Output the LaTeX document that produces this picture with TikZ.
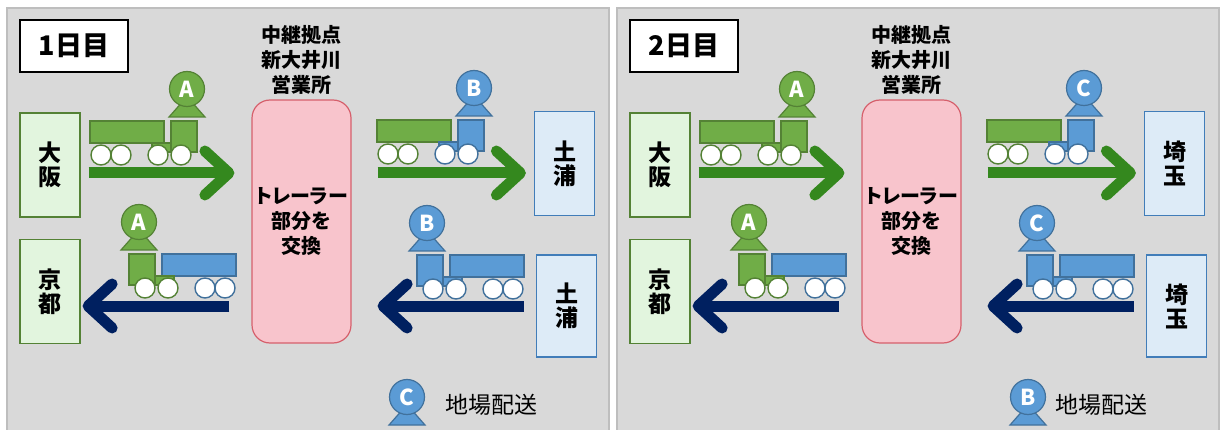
\documentclass[tikz,border=0pt]{standalone}
\usepackage{fontspec}
\setmainfont{Noto Sans CJK JP}
\usetikzlibrary{positioning,arrows.meta}
\definecolor{panelfill}{RGB}{217,217,217}
\definecolor{panelline}{RGB}{190,190,190}
\definecolor{hubfill}{RGB}{248,196,204}
\definecolor{hubline}{RGB}{214,96,108}
\definecolor{westfill}{RGB}{226,245,222}
\definecolor{westline}{RGB}{84,130,53}
\definecolor{eastfill}{RGB}{221,235,247}
\definecolor{eastline}{RGB}{65,125,185}
\definecolor{grnfill}{RGB}{112,173,71}
\definecolor{grnline}{RGB}{84,130,53}
\definecolor{blufill}{RGB}{91,155,213}
\definecolor{bluline}{RGB}{65,113,156}
\definecolor{goarrow}{RGB}{52,136,30}
\definecolor{backarrow}{RGB}{0,32,96}

\tikzset{
  % driver: head with letter, shoulders below
  pics/driver/.style 2 args={code={
    \draw[fill=#1fill,draw=#1line,line width=1.2pt] (-3,-11) -- (3,-11) -- (18,-28) -- (-18,-28) -- cycle;
    \node[circle,fill=#1fill,draw=#1line,line width=1.2pt,minimum size=35pt,inner sep=0pt,
      text=white,font=\bfseries\fontsize{22}{22}\selectfont] (-badge) at (0,0) {#2};
  }},
  % truck facing right, origin = top left of the trailer
  pics/truck/.style n args={3}{code={
    \draw[fill=#1fill,draw=#1line,line width=1.2pt] (0,0) rectangle (74,-22);
    \draw[fill=#2fill,draw=#2line,line width=1.2pt] (62,-22) rectangle (81,-31);
    \draw[fill=#2fill,draw=#2line,line width=1.2pt] (81,0) rectangle (107,-31);
    \foreach \wx in {11,31} \draw[fill=white,draw=#1line,line width=1.4pt] (\wx,-34) circle (10);
    \foreach \wx in {68,91} \draw[fill=white,draw=#2line,line width=1.4pt] (\wx,-34) circle (10);
    \pic (-drv) at (97,32) {driver={#2}{#3}};
  }}
}

\begin{document}
\begin{tikzpicture}[x=1pt,y=1pt]
  \tikzstyle{daybox}=[rectangle,draw=black,line width=1.6pt,fill=white,minimum width=108pt,minimum height=52pt,font=\bfseries\fontsize{27}{27}\selectfont]
  \tikzstyle{hubbox}=[rectangle,rounded corners=18pt,draw=hubline,line width=1.2pt,fill=hubfill,minimum width=95pt,minimum height=243pt,align=center,font=\bfseries\fontsize{20}{25}\selectfont]
  \tikzstyle{relay}=[inner sep=0pt,align=center,font=\bfseries\fontsize{20}{25}\selectfont]
  \tikzstyle{westbox}=[rectangle,draw=westline,line width=1.2pt,fill=westfill,minimum width=60pt,minimum height=104pt,align=center,font=\bfseries\fontsize{23}{24}\selectfont]
  \tikzstyle{eastbox}=[westbox,draw=eastline,fill=eastfill]
  \tikzstyle{legendtxt}=[inner sep=0pt,font=\fontsize{23}{23}\selectfont]
  \tikzstyle{gofwd}=[draw=goarrow,line width=11pt,-{Straight Barb[round,length=24pt,width=44pt]}]
  \tikzstyle{goback}=[gofwd,draw=backarrow]

  \useasboundingbox (0,0) rectangle (1220,-430);
  \fill[white] (0,0) rectangle (1220,-430);

  \foreach \dx/\dnum/\destA/\destB/\drv/\loc/\kx in {0/1/土/浦/B/C/407,610/2/埼/玉/C/B/418}{
  \begin{scope}[xshift=\dx pt,name prefix=d\dnum-]
    \draw[panelline,fill=panelfill,line width=1.2pt] (7,-8) rectangle (609,-440);

    \node[daybox] (day) at (74,-46) {\dnum 日目};
    \node[hubbox] (hub) at (301.5,-221.5) {{\addfontfeatures{RawFeature=+palt}トレーラー}\\部分を\\交換};
    \node[relay,above=5pt of hub] (relaytxt) {中継拠点\\新大井川\\営業所};

    \node[westbox] (osaka) at (50,-165) {大\\阪};
    \node[westbox] (kyoto) at (50,-291.5) {京\\都};
    \node[eastbox] (east1) at (564.5,-163.5) {\destA\\\destB};
    \node[eastbox,minimum height=102pt] (east2) at (566.5,-306) {\destA\\\destB};

    \pic (t1) at (90,-121) {truck={grn}{grn}{A}};
    \pic (t2) at (377,-120) {truck={grn}{blu}{\drv}};
    \pic[xscale=-1] (t3) at (236,-254) {truck={blu}{grn}{A}};
    \pic[xscale=-1] (t4) at (524,-255) {truck={blu}{blu}{\drv}};

    \coordinate (go) at ([yshift=-8pt]osaka.east);
    \draw[gofwd,shorten <=8pt,shorten >=17pt] (go) -- (go -| hub.west);
    \draw[gofwd,shorten <=26pt,shorten >=8pt] (go -| hub.east) -- (go -| east1.west);
    \draw[goback,shorten <=22pt,shorten >=2pt] (east2.west -| hub.west) -- (east2.west -| kyoto.east);
    \draw[goback,shorten <=12pt,shorten >=26pt] (east2.west) -- (east2.west -| hub.east);

    % legend for local delivery
    \pic (key) at (\kx,-397) {driver={blu}{\loc}};
    \node[legendtxt] (keytxt) at (491,-405) {地場配送};
  \end{scope}
  }
\end{tikzpicture}
\end{document}
